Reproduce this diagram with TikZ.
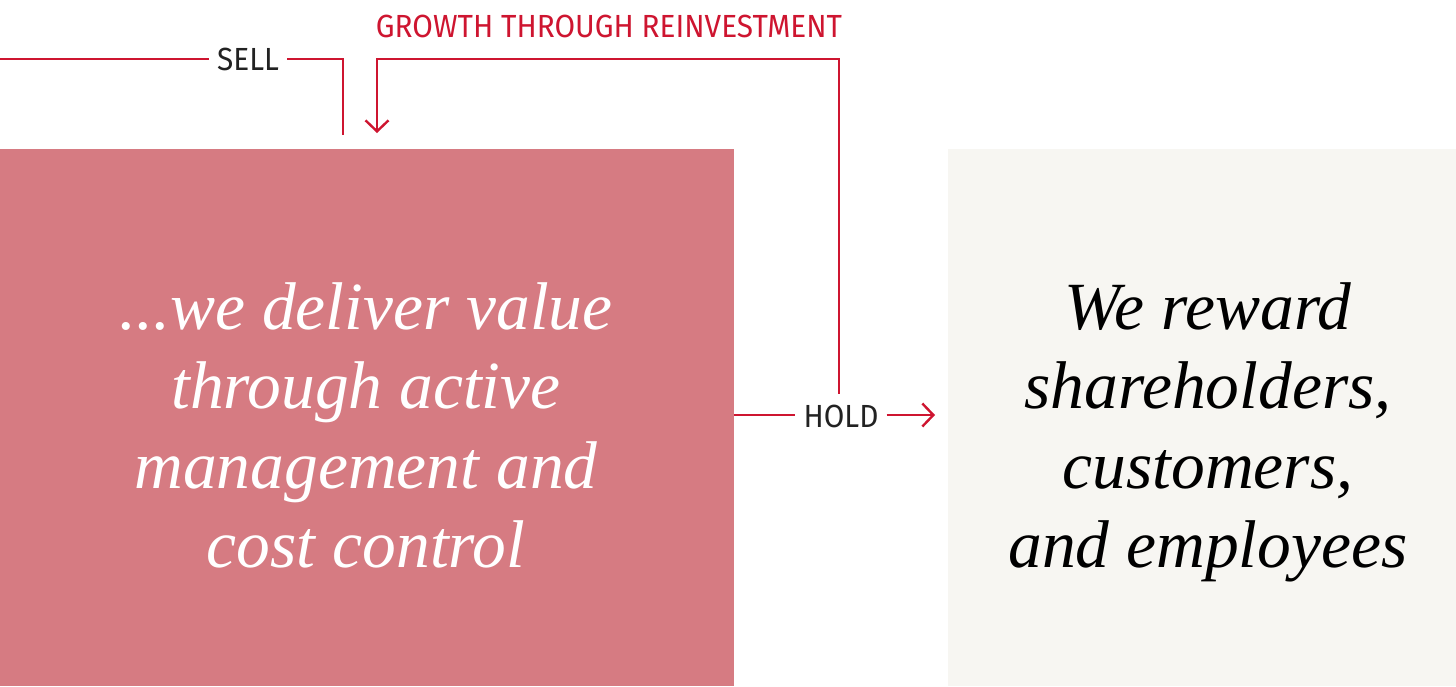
\documentclass[tikz,border=0pt]{standalone}
\usepackage{fontspec}
\setmainfont{Liberation Serif}
\newfontfamily\dinfont[FakeStretch=0.93]{Fira Sans}
\usetikzlibrary{arrows.meta}
\definecolor{linered}{HTML}{CE1530}
\definecolor{boxrose}{HTML}{D67B82}
\definecolor{boxcream}{HTML}{F7F6F2}
\definecolor{labelgray}{HTML}{222222}
\tikzset{
  flow/.style={draw=linered, line width=2.4pt},
  tip/.style={-{Straight Barb[length=11pt,width=23pt,line width=2.4pt]}},
  lbl/.style={font=\dinfont\fontsize{32}{32}\selectfont, text=labelgray, inner xsep=8pt, inner ysep=0pt},
  redlbl/.style={font=\dinfont\fontsize{32}{32}\selectfont, text=linered, inner sep=0pt},
  panel/.style={draw=none, inner sep=0pt, anchor=north west},
  bigline/.style={font=\itshape\fontsize{67.5}{80}\selectfont, anchor=base, inner sep=0pt},
}
\begin{document}
\begin{tikzpicture}[x=1pt,y=-1pt]
\useasboundingbox[fill=white] (0,0) rectangle (1456,686);
% panels
\node[panel, fill=boxrose, minimum width=734pt, minimum height=537pt] (left) at (0,149) {};
\node[panel, fill=boxcream, minimum width=508pt, minimum height=537pt] (right) at (948,149) {};
% left text
\node[bigline, text=white] (l1) at (366,329) {...we deliver value};
\node[bigline, text=white] (l2) at (366,408) {through active};
\node[bigline, text=white] (l3) at (366,488) {management and};
\node[bigline, text=white] (l4) at (366,567) {cost control};
% right text
\node[bigline, text=black] (r1) at (1208,329) {We reward};
\node[bigline, text=black] (r2) at (1208,408) {shareholders,};
\node[bigline, text=black] (r3) at (1208,488) {customers,};
\node[bigline, text=black] (r4) at (1208,567) {and employees};
% labels
\node[lbl] (sell) at (248,59.5) {SELL};
\node[lbl, inner ysep=11pt] (hold) at (841,416.5) {HOLD};
\node[redlbl] (growth) at (609,26) {GROWTH THROUGH REINVESTMENT};
% coordinates
\coordinate (sellstart) at (0,59);
\coordinate (sellcorner) at (343,59);
\coordinate (sellend) at (343,135);
\coordinate (gcorner) at (839,59);
\coordinate (gleft) at (377,59);
\coordinate (gend) at (377,133);
\coordinate (holdstart) at (734,415);
\coordinate (holdend) at (935,415);
% connectors
\draw[flow] (sellstart) -- (sellstart -| sell.west);
\draw[flow] (sellstart -| sell.east) -- (sellcorner) -- (sellend);
\draw[flow, tip] (hold.north -| gcorner) -- (gcorner) -- (gleft) -- (gend);
\draw[flow] (holdstart) -- (holdstart -| hold.west);
\draw[flow, tip] (holdstart -| hold.east) -- (holdend);
\end{tikzpicture}
\end{document}
